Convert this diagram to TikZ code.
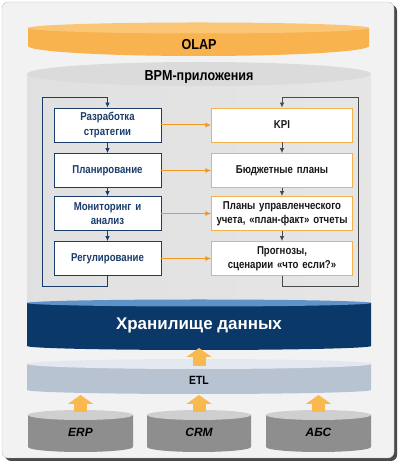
\documentclass[tikz,border=0pt]{standalone}
\usepackage{fontspec}
\setmainfont{Liberation Sans}
\newfontfamily\headfont{Liberation Sans}[FakeStretch=0.87]
\newfontfamily\boxfont{Liberation Sans}[FakeStretch=0.84]
\usetikzlibrary{arrows.meta}

\definecolor{frameback}{HTML}{F2F2F2}
\definecolor{navy}{HTML}{1B3D6B}
\definecolor{boxorange}{HTML}{F5B24C}
\definecolor{linkorange}{HTML}{F39A1E}
\definecolor{loopgray}{HTML}{4A4A4A}
\definecolor{olapside}{HTML}{F8B24E}
\definecolor{olaplight}{HTML}{FCD395}
\definecolor{olaptop}{HTML}{FAC676}
\definecolor{dwhedge}{HTML}{0A3868}
\definecolor{dwhmid}{HTML}{1E69AC}
\definecolor{dwhtop}{HTML}{5E93CA}
\definecolor{etledge}{HTML}{B8C3D2}
\definecolor{etlmid}{HTML}{DCE2EA}
\definecolor{etltop}{HTML}{E3E8F0}
\definecolor{srcedge}{HTML}{8E8E8E}
\definecolor{srcmid}{HTML}{E2E2E2}
\definecolor{srctop}{HTML}{CFCFCF}
\definecolor{liftfill}{HTML}{F9B94F}

% drum: centre x, half width, top y, bottom y, top radius, bottom radius, side style, top style
\newcommand\drum[8]{%
\path[#7](#1-#2,#3)--(#1-#2,#4)arc[start angle=180,end angle=360,x radius=#2bp,y radius=#6bp]--(#1+#2,#3)--cycle;
\path[#8](#1,#3)ellipse[x radius=#2bp,y radius=#5bp];}

\begin{document}
\begin{tikzpicture}[x=1bp,y=1bp,
stage/.style={draw=navy,fill=white,line width=.8bp,minimum width=107bp,minimum height=34bp,
  text width=100bp,align=center,text=navy,font=\boxfont\bfseries\fontsize{11.5}{14.5}\selectfont},
result/.style={draw=boxorange,fill=white,line width=.8bp,minimum width=140bp,minimum height=34bp,
  text width=134bp,align=center,text=black!90,font=\boxfont\bfseries\fontsize{11.5}{14.5}\selectfont},
title/.style={font=\headfont\bfseries\fontsize{14.5}{16}\selectfont},
source/.style={font=\bfseries\itshape\fontsize{12}{14}\selectfont},
blueflow/.style={draw=navy,line width=.8bp,-{Latex[length=5bp,width=4.5bp]}},
grayflow/.style={draw=loopgray,line width=.8bp,-{Latex[length=5bp,width=4.5bp]}},
feed/.style={draw=linkorange,line width=1bp,-{Latex[length=6bp,width=5bp]}},
lift/.style={draw=liftfill,line width=13bp,-{Triangle[width=25bp,length=9bp]}}]
\useasboundingbox (0,0) rectangle (400,465);
\fill[loopgray,rounded corners=6bp] (5,4) rectangle (397,460);
\draw[black!25,fill=frameback,rounded corners=6bp] (2,7) rectangle (394,463);

\drum{199}{172}{391}{162}{12}{4}{left color=black!12,middle color=black!7,right color=black!10}{fill=black!14}
\drum{198.5}{170.5}{437}{419}{5.5}{10}{left color=olapside,middle color=olaplight,right color=olapside}{left color=olaptop,middle color=olaplight!80!olaptop,right color=olaptop}
\drum{199}{172}{162}{119}{3.5}{4}{left color=dwhedge,middle color=dwhmid,right color=dwhedge}{fill=dwhtop}
\drum{199}{172}{101}{75}{5}{4}{left color=etledge,middle color=etlmid,right color=etledge}{fill=etltop}
\drum{80.5}{52.5}{50}{18}{5}{5}{left color=srcedge,middle color=srcmid,right color=srcedge}{fill=srctop}
\drum{199}{52}{50}{18}{5}{5}{left color=srcedge,middle color=srcmid,right color=srcedge}{fill=srctop}
\drum{318.5}{52.5}{50}{18}{5}{5}{left color=srcedge,middle color=srcmid,right color=srcedge}{fill=srctop}

\node[title] (olap) at (199,420) {OLAP};
\node[title] (bpm) at (199,388) {BPM-приложения};
\node[font=\bfseries\fontsize{17}{20}\selectfont,text=white] (dwh) at (199,140) {Хранилище данных};
\node[title,font=\headfont\bfseries\fontsize{12}{14}\selectfont] (etl) at (199,85) {ETL};
\node[source] (erp) at (80.5,33) {ERP};
\node[source] (crm) at (199,33) {CRM};
\node[source] (abs) at (318.5,33) {АБС};

\node[stage] (strat) at (107.5,340) {Разработка\\стратегии};
\node[stage] (plan) at (107.5,294.5) {Планирование};
\node[stage] (monit) at (107.5,251.5) {Мониторинг и\\анализ};
\node[stage] (regul) at (107.5,206.5) {Регулирование};
\node[result] (kpi) at (282,340) {KPI};
\node[result] (budget) at (282,294.5) {Бюджетные планы};
\node[result] (mgmt) at (282,251.5) {Планы управленческого\\учета, «план-факт» отчеты};
\node[result] (forecast) at (282,206.5) {Прогнозы,\\сценарии «что если?»};

\coordinate (ltop) at (42,368);
\coordinate (lbot) at (42,179);
\coordinate (rtop) at (358,368);
\coordinate (rbot) at (358,179);
\draw[blueflow] (regul.south) |- (lbot) -- (ltop) -| (strat.north);
\draw[grayflow] (forecast.south) |- (rbot) -- (rtop) -| (kpi.north);
\draw[blueflow] (strat) -- (plan);
\draw[blueflow] (plan) -- (monit);
\draw[blueflow] (monit) -- (regul);
\draw[grayflow] (kpi) -- (budget);
\draw[grayflow] (budget) -- (mgmt);
\draw[grayflow] (mgmt) -- (forecast);
\draw[feed] (strat) -- (kpi);
\draw[feed] (plan) -- (budget);
\draw[feed] (monit) -- (mgmt);
\draw[feed] (regul) -- (forecast);

\coordinate (etl top) at (199,99);
\coordinate (dwh base) at (199,117);
\coordinate (erp top) at (80.5,53);
\coordinate (crm top) at (199,53);
\coordinate (abs top) at (318.5,53);
\coordinate (etl base1) at (80.5,70);
\coordinate (etl base2) at (199,70);
\coordinate (etl base3) at (318.5,70);
\draw[lift] (etl top) -- (dwh base);
\draw[lift] (erp top) -- (etl base1);
\draw[lift] (crm top) -- (etl base2);
\draw[lift] (abs top) -- (etl base3);
\end{tikzpicture}
\end{document}
